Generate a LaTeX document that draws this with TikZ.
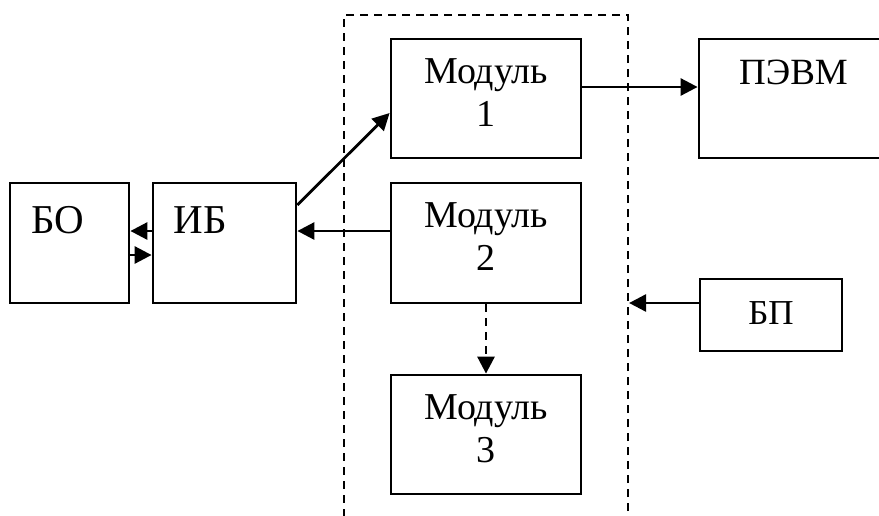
\documentclass[tikz,border=0pt]{standalone}
\usepackage{fontspec}
\setmainfont{Liberation Serif}
\usetikzlibrary{arrows.meta}

\begin{document}
\begin{tikzpicture}
[x=1pt,y=-1pt,line width=2.8pt,%
  box/.style={draw,rectangle,inner sep=0pt},%
  txt/.style={inner sep=0pt,align=center},%
  arr/.style={-{Triangle[length=17pt,width=17pt]}},%
  dsh/.style={line width=2.2pt,dash pattern=on 8pt off 6pt}]
\useasboundingbox (0,0) rectangle (879,515);
% dashed frame round the modules
\node[box,dsh,minimum width=284pt,minimum height=520pt] (blok) at (486,275) {};
% blocks
\node[box,minimum width=119pt,minimum height=120pt] (bo) at (69.5,243) {};
\node[box,minimum width=143pt,minimum height=120pt] (ib) at (224.5,243) {};
\node[box,minimum width=190pt,minimum height=119pt] (mod1) at (486,98.5) {};
\node[box,minimum width=190pt,minimum height=120pt] (mod2) at (486,243) {};
\node[box,minimum width=190pt,minimum height=119pt] (mod3) at (486,434.5) {};
\node[box,minimum width=201pt,minimum height=119pt] (pevm) at (799.5,98.5) {};
\node[box,minimum width=142pt,minimum height=72pt] (bp) at (771,315) {};
% texts
\node[txt,anchor=base,font=\fontsize{41}{48}\selectfont] (bot) at (57.5,233) {БО};
\node[txt,anchor=base,font=\fontsize{41}{48}\selectfont] (ibt) at (200,233) {ИБ};
\node[txt,anchor=north,font=\fontsize{38}{43}\selectfont] (mod1t) at ([yshift=-20pt]mod1.north) {Модуль\\1};
\node[txt,anchor=north,font=\fontsize{38}{43}\selectfont] (mod2t) at ([yshift=-20pt]mod2.north) {Модуль\\2};
\node[txt,anchor=north,font=\fontsize{38}{43}\selectfont] (mod3t) at ([yshift=-20pt]mod3.north) {Модуль\\3};
\node[txt,anchor=base,font=\fontsize{37}{44}\selectfont] (pevmt) at (793.5,84) {ПЭВМ};
\node[txt,anchor=base,font=\fontsize{35}{42}\selectfont] (bpt) at (771,324) {БП};
% connections
\draw[arr] ([yshift=12pt]ib.west) -- ([yshift=12pt]bo.east);
\draw[arr] ([yshift=-12pt]bo.east) -- ([yshift=-12pt]ib.west);
\draw[arr] ([yshift=38pt]ib.east) -- ([yshift=-14.5pt]mod1.west);
\draw[arr] ([yshift=12pt]mod2.west) -- ([yshift=12pt]ib.east);
\draw[arr] ([yshift=11.5pt]mod1.east) -- ([yshift=11.5pt]pevm.west);
\draw[arr,dsh,line width=2.8pt] (mod2.south) -- (mod3.north);
\coordinate (bpin) at ([yshift=12pt]bp.west);
\draw[arr] (bpin) -- (blok.east |- bpin);
\end{tikzpicture}
\end{document}
